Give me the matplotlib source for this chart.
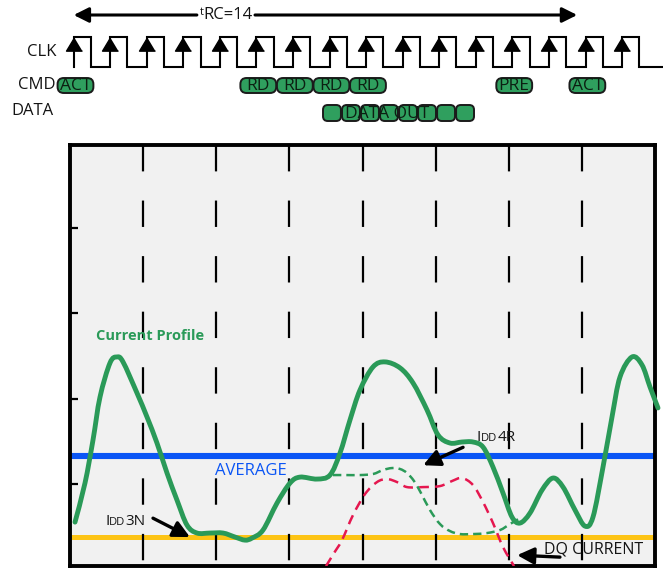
import numpy as np
import matplotlib
matplotlib.use("Agg")
import matplotlib.pyplot as plt
from matplotlib.patches import FancyBboxPatch, PathPatch
from matplotlib.path import Path
from matplotlib.offsetbox import TextArea, HPacker, AnnotationBbox

plt.rcParams['font.family'] = ['Open Sans', 'DejaVu Sans']
plt.rcParams['lines.scale_dashes'] = False

# ---------------- timing data ----------------
clock_edges = np.arange(16)                 # rising edges shown
cmd_cycles = [0, 5, 6, 7, 8, 12, 14]
cmd_labels = ['ACT', 'RD', 'RD', 'RD', 'RD', 'PRE', 'ACT']
data_first_cycle = 7
data_beats = 8
trc_cycles = 14

# ---------------- current data (time in clock cycles) ----------------
profile_t = [0.137, 0.410, 0.629, 0.821, 1.094, 1.285, 1.450, 1.832, 2.106, 2.379,
             2.653, 2.926, 3.200, 3.474, 3.829, 4.185, 4.513, 4.786, 4.978, 5.279,
             5.662, 6.017, 6.291, 6.756, 7.111, 7.385, 7.658, 7.932, 8.287, 8.615,
             9.026, 9.381, 9.764, 10.065, 10.393, 10.721, 11.022, 11.296, 11.569, 11.843,
             12.089, 12.308, 12.581, 12.910, 13.210, 13.484, 13.812, 14.085, 14.304, 14.578,
             14.824, 15.043, 15.371, 15.644, 15.863, 16.082]
profile_i = [0.554, 1.011, 1.515, 2.019, 2.418, 2.488, 2.430, 2.066, 1.785, 1.480,
             1.129, 0.812, 0.519, 0.426, 0.426, 0.426, 0.379, 0.343, 0.367, 0.461,
             0.777, 1.011, 1.081, 1.058, 1.105, 1.363, 1.750, 2.101, 2.371, 2.430,
             2.360, 2.184, 1.868, 1.575, 1.480, 1.492, 1.492, 1.433, 1.199, 0.894,
             0.613, 0.543, 0.660, 0.929, 1.070, 0.965, 0.696, 0.507, 0.613, 1.199,
             1.785, 2.254, 2.488, 2.395, 2.137, 1.891]

idd4r_t = [7.193, 7.521, 7.932, 8.287, 8.561, 8.807, 9.026, 9.217, 9.409, 9.600,
           9.846, 10.120, 10.393, 10.667, 11.022, 11.405, 11.761, 12.034, 12.308]
idd4r_i = [1.105, 1.105, 1.105, 1.117, 1.164, 1.187, 1.176, 1.129, 1.035, 0.894,
           0.695, 0.531, 0.449, 0.414, 0.414, 0.426, 0.461, 0.531, 0.601]

dq_t = [7.002, 7.220, 7.439, 7.740, 8.068, 8.397, 8.670, 8.944, 9.217, 9.655,
        10.120, 10.448, 10.721, 11.022, 11.296, 11.569, 11.843, 12.144]
dq_i = [0.039, 0.191, 0.343, 0.636, 0.882, 1.023, 1.058, 1.023, 0.964, 0.964,
        0.976, 1.035, 1.070, 0.988, 0.789, 0.543, 0.262, 0.039]

average_level = 1.328
idd3n_level = 0.379
grid_cycles = [2, 4, 6, 8, 10, 12, 14]
y_ticks = [1, 2, 3, 4]

# ---------------- style ----------------
GREEN = '#2a9a58'
BOX_GREEN = '#2f9f5e'
BLUE = '#0a55f5'
YELLOW = '#fdc415'
RED = '#e5174f'
INK = '#141414'
EDGE = 0.1              # phase of rising edge within a cycle

W, H = 663, 568
fig = plt.figure(figsize=(W / 100, H / 100), dpi=100)
P = 585 / 16            # pixels per clock cycle


def smooth_path(xs, ys):
    """Cubic Bezier path passing through every given point (Catmull-Rom tangents)."""
    p = np.column_stack([xs, ys]).astype(float)
    ext = np.vstack([p[0], p, p[-1]])
    verts = [p[0]]
    codes = [Path.MOVETO]
    for i in range(len(p) - 1):
        a, b, c, d = ext[i], ext[i + 1], ext[i + 2], ext[i + 3]
        verts += [b + (c - a) / 6.0, c - (d - b) / 6.0, c]
        codes += [Path.CURVE4] * 3
    return Path(verts, codes)


# ---------------- timing header ----------------
hax = fig.add_axes([0, 1 - 140 / H, 1, 140 / H])
hax.set_xlim(-70 / P, (W - 70) / P)
hax.set_ylim(140, 0)
hax.axis('off')

hi, lo = 37, 67
xs, ys = [], []
for k in clock_edges:
    r = k + EDGE
    f = r + 0.47
    xs += [r, r, f, f]
    ys += [lo, hi, hi, lo]
xs.append(hax.get_xlim()[1])
ys.append(lo)
hax.plot(xs, ys, color='black', lw=1.5, solid_joinstyle='miter')
hax.plot(clock_edges + EDGE, np.full(len(clock_edges), 43.5), ls='none',
         marker=[(0, 1), (-1.2, -1), (1.2, -1)], ms=11.5, color='black')

label_kw = dict(ha='right', va='center', fontsize=12, color=INK)
hax.text(-0.36, 52, 'CLK', **label_kw)
hax.text(-0.41, 85, 'CMD', **label_kw)
hax.text(-0.46, 111, 'DATA', **label_kw)

for c, lbl in zip(cmd_cycles, cmd_labels):
    cx = c + EDGE + 0.05
    hax.add_patch(FancyBboxPatch((cx - 0.49, 78), 0.98, 15,
                                 boxstyle='round,pad=0,rounding_size=0.17',
                                 mutation_aspect=P, fc=BOX_GREEN, ec='#1b1b1b', lw=1.4))
    hax.text(cx, 85.5, lbl, ha='center', va='center', fontsize=12.5, color='#0c1f12')

for i in range(data_beats):
    x0 = data_first_cycle + EDGE - 0.18 + 0.52 * i
    hax.add_patch(FancyBboxPatch((x0, 105), 0.49, 16,
                                 boxstyle='round,pad=0,rounding_size=0.13',
                                 mutation_aspect=P, fc=BOX_GREEN, ec='#1b1b1b', lw=1.4))
hax.text(8.66, 113.5, 'DATA OUT', ha='center', va='center', fontsize=12.5, color='#0c1f12')

# tRC span arrow
arrow_kw = dict(arrowstyle='-|>,head_length=0.9,head_width=0.45', color='black',
                lw=2.2, shrinkA=0, mutation_scale=10)
hax.annotate('', xy=(EDGE, 15), xytext=(3.47, 15), arrowprops=dict(shrinkB=0, **arrow_kw))
hax.annotate('', xy=(trc_cycles + EDGE, 15), xytext=(5.06, 15),
             arrowprops=dict(shrinkB=6, **arrow_kw))
trc_box = HPacker(children=[TextArea('t', textprops=dict(fontsize=8, color=INK)),
                            TextArea('RC=%d' % trc_cycles,
                                     textprops=dict(fontsize=12, color=INK))],
                  align='top', pad=0, sep=0)
hax.add_artist(AnnotationBbox(trc_box, (4.27, 15), frameon=False, pad=0,
                              box_alignment=(0.5, 0.5)))

# ---------------- current profile ----------------
ax = fig.add_axes([70 / W, 2 / H, 585 / W, 421 / H])
ax.set_xlim(0, 16)
ax.set_ylim(0.04, 4.97)
ax.set_facecolor('#f1f1f1')
for s in ax.spines.values():
    s.set_linewidth(2.8)
    s.set_color('black')
ax.set_xticks([])
ax.set_yticks(y_ticks)
ax.tick_params(axis='y', direction='in', length=6, width=1.6, labelleft=False)

ax.axhline(average_level, color=BLUE, lw=4.4, zorder=2)
ax.axhline(idd3n_level, color=YELLOW, lw=3.6, zorder=2)

for g in grid_cycles:
    ax.plot([g, g], [4.97, 0.04], color='black', lw=1.6, dashes=(19, 21), zorder=3)

ax.add_patch(PathPatch(smooth_path(dq_t, dq_i), fill=False, ec=RED, lw=1.8,
                       ls=(0, (7, 4.5)), zorder=4))
ax.add_patch(PathPatch(smooth_path(idd4r_t, idd4r_i), fill=False, ec=GREEN, lw=1.8,
                       ls=(0, (6, 3.6)), zorder=4))
ax.add_patch(PathPatch(smooth_path(profile_t, profile_i), fill=False, ec=GREEN, lw=3.5,
                       capstyle='round', joinstyle='round', clip_on=False, zorder=5))

ax.text(0.71, 2.73, 'Current Profile', color=GREEN, fontsize=10.5, fontweight='bold',
        ha='left', va='center')
ax.text(3.97, 1.15, 'AVERAGE', color=BLUE, fontsize=12, ha='left', va='center')


def idd_label(x, y, suffix):
    box = HPacker(children=[TextArea('I', textprops=dict(fontsize=11, color=INK)),
                            TextArea('DD', textprops=dict(fontsize=8, color=INK)),
                            TextArea(suffix, textprops=dict(fontsize=11, color=INK))],
                  align='baseline', pad=0, sep=0)
    ax.add_artist(AnnotationBbox(box, (x, y), frameon=False, pad=0,
                                 box_alignment=(0, 0.5), zorder=6))


point_kw = dict(arrowstyle='-|>,head_length=1.0,head_width=0.5', color='black',
                lw=2.4, shrinkA=0, shrinkB=0, mutation_scale=10)
idd_label(0.96, 0.56, '3N')
ax.annotate('', xy=(3.28, idd3n_level), xytext=(2.27, 0.60), arrowprops=point_kw, zorder=6)
idd_label(11.13, 1.54, '4R')
ax.annotate('', xy=(9.66, 1.22), xytext=(10.75, 1.43), arrowprops=point_kw, zorder=6)
ax.text(12.96, 0.23, 'DQ CURRENT', color=INK, fontsize=11.5, ha='left', va='center',
        zorder=6)
ax.annotate('', xy=(12.23, 0.167), xytext=(13.40, 0.144), arrowprops=point_kw, zorder=6)

fig.savefig('out.png', dpi=100)
